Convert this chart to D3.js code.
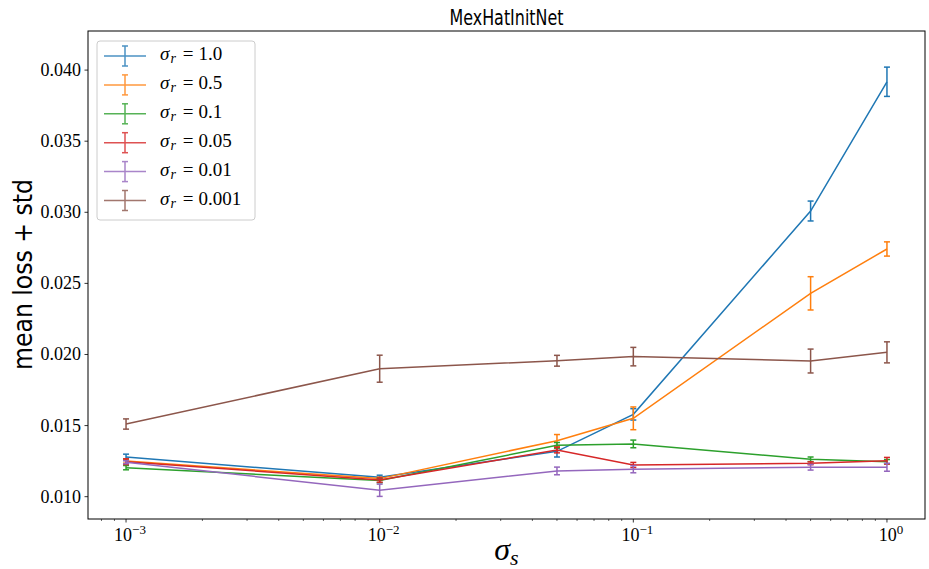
<!DOCTYPE html>
<html>
<head>
<meta charset="utf-8">
<script src="https://cdn.jsdelivr.net/npm/d3@7"></script>
<style>
  body { margin: 0; background: #fff; }
  svg { display: block; }
</style>
</head>
<body>
<div class="chart"></div>
<script>
// sigma_s values on the x axis
const sigmaS = [0.001, 0.01, 0.05, 0.1, 0.5, 1.0];
const sigmaRLabels = ["1.0", "0.5", "0.1", "0.05", "0.01", "0.001"];
const colors = ["#1f77b4", "#ff7f0e", "#2ca02c", "#d62728", "#9467bd", "#8c564b"];

// mean loss and std per sigma_r
const meanR1 = [0.01279, 0.01136, 0.01319, 0.01579, 0.03009, 0.03918];
const stdR1 = [0.00020, 0.00015, 0.00040, 0.00040, 0.00070, 0.00103];
const meanR05 = [0.01251, 0.01127, 0.01394, 0.01551, 0.02430, 0.02742];
const stdR05 = [0.00015, 0.00010, 0.00043, 0.00080, 0.00117, 0.00050];
const meanR01 = [0.01204, 0.01113, 0.01361, 0.01371, 0.01263, 0.01246];
const stdR01 = [0.00015, 0.00015, 0.00020, 0.00027, 0.00016, 0.00015];
const meanR005 = [0.01246, 0.01117, 0.01328, 0.01223, 0.01235, 0.01253];
const stdR005 = [0.00020, 0.00015, 0.00020, 0.00018, 0.00010, 0.00023];
const meanR001 = [0.01242, 0.01045, 0.01181, 0.01193, 0.01207, 0.01207];
const stdR001 = [0.00010, 0.00043, 0.00027, 0.00025, 0.00020, 0.00028];
const meanR0001 = [0.01511, 0.01900, 0.01956, 0.01985, 0.01954, 0.02015];
const stdR0001 = [0.00036, 0.00095, 0.00038, 0.00065, 0.00084, 0.00074];

const yTicks = [0.010, 0.015, 0.020, 0.025, 0.030, 0.035, 0.040];
const xTicks = [1e-3, 1e-2, 1e-1, 1e0];
const xTickExp = ["\u22123", "\u22122", "\u22121", "0"];

const means = [meanR1, meanR05, meanR01, meanR005, meanR001, meanR0001];
const stds = [stdR1, stdR05, stdR01, stdR005, stdR001, stdR0001];
const series = sigmaRLabels.map((lab, i) => ({
  label: lab,
  color: colors[i],
  points: sigmaS.map((s, j) => ({ x: s, m: means[i][j], e: stds[i][j] }))
}));

const W = 929, H = 569;
const margin = { top: 31, right: 4, bottom: 50, left: 88 };
const serif = "'Liberation Serif', 'DejaVu Serif', serif";
const sans = "'DejaVu Sans', sans-serif";

const svg = d3.select(".chart")
  .append("svg")
  .attr("width", W)
  .attr("height", H);

const x = d3.scaleLog()
  .domain([Math.pow(10, -3.15), Math.pow(10, 0.15)])
  .range([margin.left, W - margin.right]);

const y = d3.scaleLinear()
  .domain([0.00843, 0.04275])
  .range([H - margin.bottom, margin.top]);

// x axis with minor ticks
const minor = [];
for (let k = -4; k <= 0; k++) {
  for (let m = 2; m <= 9; m++) {
    const v = m * Math.pow(10, k);
    if (v > x.domain()[0] && v < x.domain()[1]) minor.push(v);
  }
}
const xAxis = svg.append("g")
  .attr("transform", `translate(0,${H - margin.bottom})`);
xAxis.selectAll(".minor")
  .data(minor)
  .enter().append("line")
  .attr("x1", d => x(d)).attr("x2", d => x(d))
  .attr("y1", 0).attr("y2", 2)
  .attr("stroke", "#000").attr("stroke-width", 0.6);
xAxis.selectAll(".major")
  .data(xTicks)
  .enter().append("line")
  .attr("x1", d => x(d)).attr("x2", d => x(d))
  .attr("y1", 0).attr("y2", 3.5)
  .attr("stroke", "#000").attr("stroke-width", 0.8);
const xl = xAxis.selectAll(".lab")
  .data(xTicks)
  .enter().append("text")
  .attr("x", d => x(d) + 4)
  .attr("y", 22)
  .attr("text-anchor", "middle")
  .attr("font-family", serif)
  .attr("font-size", 18)
  .attr("fill", "#000");
xl.append("tspan").text("10");
xl.append("tspan")
  .attr("dy", -7)
  .attr("font-size", 13)
  .text((d, i) => xTickExp[i]);

// y axis
const yAxis = svg.append("g")
  .attr("transform", `translate(${margin.left},0)`);
yAxis.selectAll("line")
  .data(yTicks)
  .enter().append("line")
  .attr("x1", -3.5).attr("x2", 0)
  .attr("y1", d => y(d)).attr("y2", d => y(d))
  .attr("stroke", "#000").attr("stroke-width", 0.8);
yAxis.selectAll("text")
  .data(yTicks)
  .enter().append("text")
  .attr("x", -7)
  .attr("y", d => y(d) + 6)
  .attr("text-anchor", "end")
  .attr("font-family", serif)
  .attr("font-size", 18)
  .attr("fill", "#000")
  .text(d => d3.format(".3f")(d));

// series: lines + error bars
const line = d3.line()
  .x(d => x(d.x))
  .y(d => y(d.m));

const plot = svg.append("g");
series.forEach(s => {
  const g = plot.append("g");
  g.append("path")
    .datum(s.points)
    .attr("fill", "none")
    .attr("stroke", s.color)
    .attr("stroke-width", 1.5)
    .attr("d", line);
  const eb = g.selectAll(".eb")
    .data(s.points)
    .enter().append("g");
  eb.append("line")
    .attr("x1", d => x(d.x)).attr("x2", d => x(d.x))
    .attr("y1", d => y(d.m - d.e)).attr("y2", d => y(d.m + d.e))
    .attr("stroke", s.color).attr("stroke-width", 1.5);
  [-1, 1].forEach(sg => {
    eb.append("line")
      .attr("x1", d => x(d.x) - 3).attr("x2", d => x(d.x) + 3)
      .attr("y1", d => y(d.m + sg * d.e)).attr("y2", d => y(d.m + sg * d.e))
      .attr("stroke", s.color).attr("stroke-width", 1.5);
  });
});

// frame
svg.append("rect")
  .attr("x", margin.left)
  .attr("y", margin.top)
  .attr("width", W - margin.right - margin.left)
  .attr("height", H - margin.bottom - margin.top)
  .attr("fill", "none")
  .attr("stroke", "#000")
  .attr("stroke-width", 1);

// legend
const leg = svg.append("g").attr("transform", "translate(97,41)");
leg.append("rect")
  .attr("width", 158).attr("height", 179)
  .attr("rx", 3)
  .attr("fill", "#fff").attr("fill-opacity", 0.8)
  .attr("stroke", "#cccccc").attr("stroke-width", 1);
series.forEach((s, i) => {
  const cy = 15 + i * 28.9;
  const row = leg.append("g").attr("opacity", 0.8);
  row.append("line")
    .attr("x1", 7).attr("x2", 49).attr("y1", cy).attr("y2", cy)
    .attr("stroke", s.color).attr("stroke-width", 1.5);
  row.append("line")
    .attr("x1", 28).attr("x2", 28).attr("y1", cy - 10).attr("y2", cy + 10)
    .attr("stroke", s.color).attr("stroke-width", 1.5);
  [-10, 10].forEach(o => {
    row.append("line")
      .attr("x1", 25).attr("x2", 31).attr("y1", cy + o).attr("y2", cy + o)
      .attr("stroke", s.color).attr("stroke-width", 1.5);
  });
  const t = leg.append("text")
    .attr("x", 63).attr("y", cy + 4)
    .attr("font-family", serif)
    .attr("font-size", 19)
    .attr("fill", "#000");
  t.append("tspan").attr("font-style", "italic").text("\u03c3");
  t.append("tspan").attr("font-style", "italic").attr("font-size", 14).attr("dx", 1).attr("dy", 3).text("r");
  t.append("tspan").attr("dy", -3).attr("dx", 7).text("=");
  t.append("tspan").attr("dx", 5).text(s.label);
});

// title and axis labels
svg.append("text")
  .attr("x", (margin.left + W - margin.right) / 2)
  .attr("y", 25)
  .attr("text-anchor", "middle")
  .attr("font-family", sans)
  .attr("font-size", 21)
  .attr("textLength", 114)
  .attr("lengthAdjust", "spacingAndGlyphs")
  .text("MexHatInitNet");

svg.append("text")
  .attr("transform", "translate(32,274.5) rotate(-90)")
  .attr("text-anchor", "middle")
  .attr("font-family", sans)
  .attr("font-size", 27)
  .attr("textLength", 191)
  .attr("lengthAdjust", "spacingAndGlyphs")
  .text("mean loss + std");

const xlab = svg.append("text")
  .attr("x", (margin.left + W - margin.right) / 2)
  .attr("y", 560)
  .attr("text-anchor", "middle")
  .attr("font-family", serif)
  .attr("font-size", 32)
  .attr("font-style", "italic");
xlab.append("tspan").text("\u03c3");
xlab.append("tspan").attr("font-size", 22).attr("dy", 5).text("s");
</script>
</body>
</html>
